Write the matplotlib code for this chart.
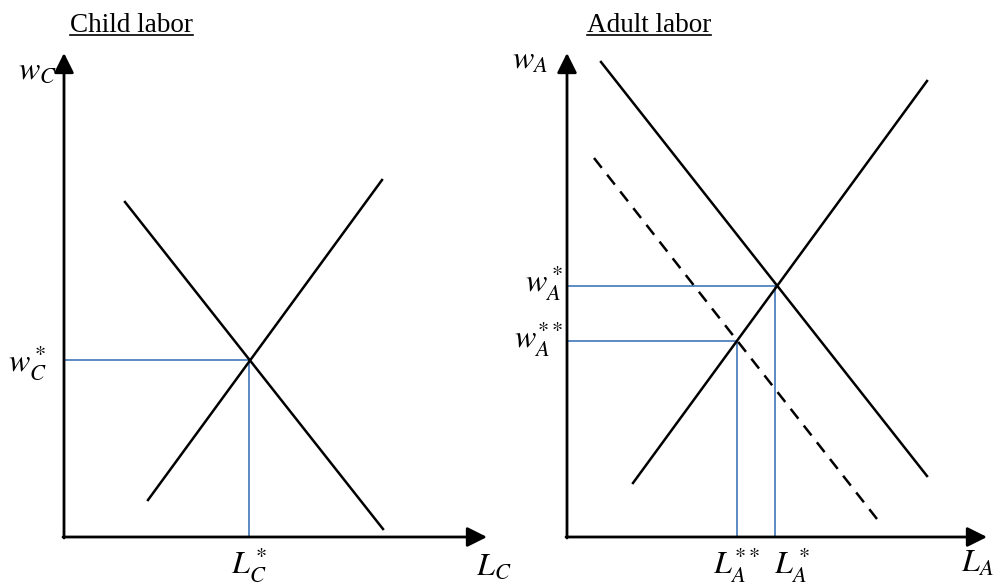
import matplotlib
matplotlib.use('Agg')
import matplotlib.pyplot as plt
from matplotlib.lines import Line2D

plt.rcParams['mathtext.fontset'] = 'stix'
plt.rcParams['font.family'] = ['Liberation Serif', 'DejaVu Serif']

# axis extents (same units on both panels)
x_max_c, y_max_c = 42.3, 48.4
x_max_a, y_max_a = 42.0, 48.4

# child labor market: demand and supply segments (x, y end points)
child_demand_x = [6.1, 31.9]
child_demand_y = [33.5, 0.8]
child_supply_x = [8.4, 31.8]
child_supply_y = [3.7, 35.7]
child_eq_L = 18.5
child_eq_w = 17.7

# adult labor market
adult_demand_x = [3.4, 36.0]
adult_demand_y = [47.5, 6.1]
adult_supply_x = [6.6, 36.0]
adult_supply_y = [5.4, 45.6]
adult_new_demand_x = [2.7, 31.0]
adult_new_demand_y = [37.9, 1.8]
adult_eq_L = [20.8, 17.0]   # L*, L**
adult_eq_w = [25.1, 19.6]   # w*, w**

BLUE = '#4F81BD'
W, H = 997, 586

fig = plt.figure(figsize=(W / 100, H / 100), dpi=100)


def make_axes(ox, oy, xmax, ymax):
    # ox, oy: origin in pixels from top-left; data unit = 10 px
    ax = fig.add_axes([ox / W, (H - oy) / H, xmax * 10 / W, ymax * 10 / H])
    ax.set_xlim(0, xmax)
    ax.set_ylim(0, ymax)
    ax.axis('off')
    arrow = dict(arrowstyle='-|>,head_length=0.6,head_width=0.3', lw=2.0,
                 color='black', shrinkA=0, shrinkB=0, mutation_scale=20)
    ax.annotate('', xy=(xmax, 0), xytext=(-0.1, 0), arrowprops=arrow, annotation_clip=False)
    ax.annotate('', xy=(0, ymax), xytext=(0, -0.1), arrowprops=arrow, annotation_clip=False)
    return ax


def guide(ax, L, w):
    ax.plot([0, L], [w, w], color=BLUE, lw=1.3, clip_on=False, zorder=1)
    ax.plot([L, L], [0, w], color=BLUE, lw=1.3, clip_on=False, zorder=1)


def label(ax, x, y, s, ha='center'):
    ax.text(x, y, s, fontsize=23, ha=ha, va='center', clip_on=False)


# --- Child labor ---
ax1 = make_axes(64, 537, x_max_c, y_max_c)
guide(ax1, child_eq_L, child_eq_w)
ax1.plot(child_demand_x, child_demand_y, color='black', lw=1.8, clip_on=False)
ax1.plot(child_supply_x, child_supply_y, color='black', lw=1.8, clip_on=False)
label(ax1, -2.7, 46.6, r'$w_C$')
label(ax1, -1.7, 17.4, r'$w_C^*$', ha='right')
label(ax1, child_eq_L, -2.8, r'$L_C^*$')
label(ax1, 43.0, -3.0, r'$L_C$')

# --- Adult labor ---
ax2 = make_axes(567, 537, x_max_a, y_max_a)
guide(ax2, adult_eq_L[0], adult_eq_w[0])
guide(ax2, adult_eq_L[1], adult_eq_w[1])
ax2.plot(adult_demand_x, adult_demand_y, color='black', lw=1.8, clip_on=False)
ax2.plot(adult_supply_x, adult_supply_y, color='black', lw=1.8, clip_on=False)
ax2.plot(adult_new_demand_x, adult_new_demand_y, color='black', lw=1.8,
         ls=(0, (5, 3.5)), clip_on=False)
label(ax2, -3.7, 47.6, r'$w_A$')
label(ax2, -0.4, 25.4, r'$w_A^*$', ha='right')
label(ax2, -0.4, 19.8, r'$w_A^{**}$', ha='right')
label(ax2, adult_eq_L[1], -2.7, r'$L_A^{**}$')
label(ax2, adult_eq_L[0] + 1.7, -2.7, r'$L_A^*$')
label(ax2, 41.0, -2.7, r'$L_A$')

# underlined panel titles
titles = [('Child labor', 70), ('Adult labor', 587)]
fig.canvas.draw()
renderer = fig.canvas.get_renderer()
for txt, px in titles:
    t = fig.text(px / W, (H - 32) / H, txt, fontsize=19.5, ha='left', va='baseline')
    bb = t.get_window_extent(renderer)
    uy = (H - 35) / H
    fig.add_artist(Line2D([bb.x0 / W, bb.x1 / W], [uy, uy], color='black', lw=1.2))

fig.savefig('out.png', dpi=100)
